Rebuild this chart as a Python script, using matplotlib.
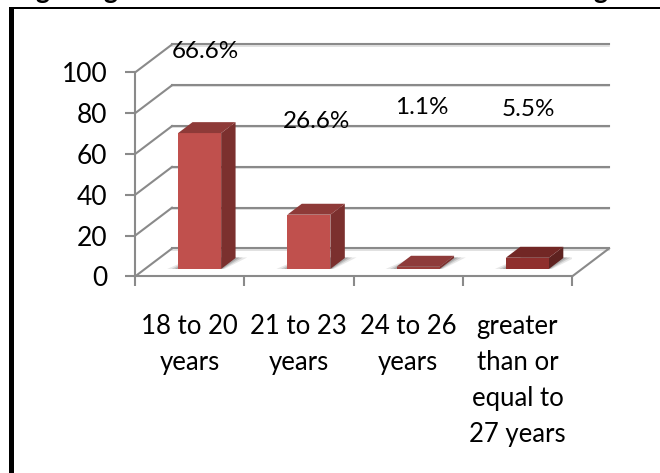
import matplotlib
matplotlib.use("Agg")
import matplotlib.pyplot as plt
from matplotlib.patches import Polygon, Rectangle
from matplotlib.transforms import ScaledTranslation

plt.rcParams['font.family'] = ['Lato', 'DejaVu Sans']

W, H = 660, 473
GRID = "#8a8a8a"

categories = ["18 to 20\nyears", "21 to 23\nyears", "24 to 26\nyears",
              "greater\nthan or\nequal to\n27 years"]
values = [66.6, 26.6, 1.1, 5.5]
yticks = [0, 20, 40, 60, 80, 100]

front_colors = ["#c0504d", "#c0504d", "#9a3f3c", "#8f2f2d"]
top_colors = ["#8e3a38", "#8e3a38", "#8e3b3a", "#722725"]
side_colors = ["#7b302e", "#7b302e", "#7b302e", "#5e2220"]

# label centres in pixels, they sit in free space rather than on the bars
label_px = [(205, 52), (317, 121), (422, 108), (528, 110)]
title_g_px = [42, 110, 600]


def px(x, y):
    return x / W, 1 - y / H


fig = plt.figure(figsize=(W / 100, H / 100), dpi=100, facecolor="white")
ax = fig.add_axes([135 / W, 1 - 276.5 / H, 437 / W, 204 / H])
ax.set_xlim(0, 4)
ax.set_ylim(0, 100)
ax.patch.set_visible(False)


def depth(d):
    # shifts data coordinates back into the 3D box, d=0 front, d=1 back wall
    return ax.transData + ScaledTranslation(0.37 * d, 0.28 * d, fig.dpi_scale_trans)


# frame around the figure (left and top only)
fig.add_artist(Rectangle(px(8.5, 473), 5.5 / W, (473 - 7.5) / H, transform=fig.transFigure,
                         color="black", lw=0))
fig.add_artist(Rectangle(px(8.5, 9.5), 1 - 8.5 / W, 2.2 / H, transform=fig.transFigure,
                         color="black", lw=0))

# descenders of the heading line cut by the top edge
for x in title_g_px:
    fig.text(x / W, 1 + 1.5 / H, "g", fontsize=19, fontweight="bold", ha="center", va="baseline")

# back wall grid and the side wall lines
for y in yticks:
    ax.plot([0, 4], [y, y], transform=depth(1) + ScaledTranslation(0, -0.012, fig.dpi_scale_trans),
            color="#dcdcdc", lw=1.2, clip_on=False, zorder=1)
    ax.plot([0, 4], [y, y], transform=depth(1), color=GRID, lw=1.5, clip_on=False, zorder=1.1)
    p0 = ax.transData.transform((0, y))
    p1 = depth(1).transform((0, y))
    ax.plot([p0[0], p1[0]], [p0[1], p1[1]], transform=None, color=GRID, lw=1.5, clip_on=False, zorder=1.1)

# right edge of the floor
p0 = ax.transData.transform((4, 0))
p1 = depth(1).transform((4, 0))
ax.plot([p0[0], p1[0]], [p0[1], p1[1]], transform=None, color=GRID, lw=1.5, clip_on=False, zorder=1.1)

half = 0.197
d0, d1 = 0.27, 0.66
for i, v in enumerate(values):
    c = i + 0.5
    l, r = c - half, c + half

    # soft shadow on the floor
    for k, a in zip([0.10, 0.06, 0.03], [0.14, 0.20, 0.28]):
        pts = [depth(d0).transform((l - k, 0)), depth(d0).transform((r + k * 0.3, 0)),
               depth(d1 + 0.02).transform((r + k, 0)), depth(d1 + 0.02).transform((l, 0))]
        ax.add_patch(Polygon(pts, closed=True, transform=None, facecolor="#555555", alpha=a,
                             lw=0, zorder=2))

    fl, fr = depth(d0).transform((l, v)), depth(d0).transform((r, v))
    bl, br = depth(d1).transform((l, v)), depth(d1).transform((r, v))
    fr0, br0 = depth(d0).transform((r, 0)), depth(d1).transform((r, 0))
    fl0 = depth(d0).transform((l, 0))
    ax.add_patch(Polygon([fr0, br0, br, fr], closed=True, transform=None,
                         facecolor=side_colors[i], lw=0, zorder=3))
    ax.add_patch(Polygon([fl0, fr0, fr, fl], closed=True, transform=None,
                         facecolor=front_colors[i], lw=0, zorder=3.1))
    ax.add_patch(Polygon([fl, fr, br, bl], closed=True, transform=None,
                         facecolor=top_colors[i], lw=0, zorder=3.2))

for side in ["top", "right"]:
    ax.spines[side].set_visible(False)
for side in ["left", "bottom"]:
    ax.spines[side].set_color(GRID)
    ax.spines[side].set_linewidth(1.5)

ax.set_yticks(yticks)
ax.set_xticks(range(5))
ax.set_xticklabels([])
ax.set_xticks([i + 0.5 for i in range(4)], minor=True)
ax.set_xticklabels(categories, minor=True, fontsize=18.5, linespacing=1.55, color="black")
ax.tick_params(axis="x", which="major", length=7, width=1.5, color=GRID, direction="out")
ax.tick_params(axis="x", which="minor", length=0, pad=27)
ax.tick_params(axis="y", length=7, width=1.5, color=GRID, direction="out", pad=13, labelsize=19)

for (x, y), v in zip(label_px, values):
    fx, fy = px(x, y)
    fig.text(fx, fy, f"{v}%", fontsize=17.5, ha="center", va="center", color="black", zorder=5)

fig.savefig("out.png", dpi=100)
